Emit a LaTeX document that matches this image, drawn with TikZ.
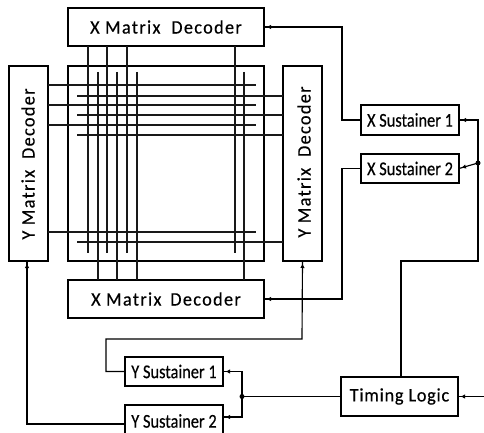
\documentclass[tikz,border=0pt]{standalone}
\usepackage{fontspec}
\setmainfont{Carlito}
\newfontfamily\labfont[LetterSpace=7,FakeStretch=0.96,FakeBold=0.4]{Carlito}
\newfontfamily\timfont[LetterSpace=4,FakeStretch=0.96,FakeBold=0.4]{Carlito}
\newfontfamily\susfont[FakeStretch=0.84,FakeBold=0.4]{Carlito}
\usetikzlibrary{arrows.meta}
\tikzset{
  boxnode/.style={draw=black,line width=1.5pt,fill=white,inner sep=0pt,outer sep=0pt,minimum width=#1},
  boxnode/.default=98pt,
  wire/.style={draw=black,line width=1.15pt},
  grid/.style={draw=black!90,line width=1.15pt},
  arrowwire/.style={wire,-{Latex[length=4.5pt,width=4.5pt] Rectangle[length=2.5pt,width=1.15pt]}},
  lab/.style={font=\labfont\fontsize{19}{19}\selectfont},
  tlab/.style={font=\timfont\fontsize{19}{19}\selectfont},
  slab/.style={font=\susfont\fontsize{19.5}{19.5}\selectfont}
}
\begin{document}
\begin{tikzpicture}[x=1pt,y=-1pt]
\useasboundingbox (0,0) rectangle (484,433);
\fill[white] (0,0) rectangle (484,433);
% panel
\node[boxnode=196pt,minimum height=195pt,anchor=north west] (panel) at (68,66) {};
% decoders
\node[boxnode=196pt,minimum height=38pt,anchor=north west,lab] (xtop) at (68,8) {X Matrix\ \ Decoder};
\node[boxnode=196pt,minimum height=38pt,anchor=north west,lab] (xbot) at (68,280) {X Matrix\ \ \hspace{-2pt}Decoder};
\node[boxnode=39pt,minimum height=195pt,anchor=north west] (yleft) at (9,66) {};
\node[lab,rotate=90] (ylefttext) at (28,164) {Y Matrix\ \ Decoder};
\node[boxnode=39pt,minimum height=195pt,anchor=north west] (yright) at (283,66) {};
\node[lab,rotate=90] (yrighttext) at (304,162) {Y Matrix\ \ Decoder};
% sustainers
\node[boxnode,minimum height=30pt,anchor=north west,slab] (xs1) at (361,105) {X Sustainer 1};
\node[boxnode,minimum height=29pt,anchor=north west,slab] (xs2) at (361,154) {X Sustainer 2};
\node[boxnode,minimum height=29pt,anchor=north west,slab] (ys1) at (125,357) {Y Sustainer 1};
\node[boxnode,minimum height=34pt,anchor=north west] (ys2) at (125,405) {};
\node[slab,anchor=center] (ys2text) at (174,421) {Y Sustainer 2};
\node[boxnode=117pt,minimum height=39pt,anchor=north west,tlab] (tim) at (341,377) {Timing Logic};
% grid: horizontals from the left decoder
\foreach \y in {85,105,125,232} \draw[grid] (48,\y) -- (256,\y);
% horizontals to the right decoder
\foreach \y in {96,115,135,242} \draw[grid] (77,\y) -- (283,\y);
% verticals from the top decoder
\foreach \x in {88,107,127,235} \draw[grid] (\x,46) -- (\x,253);
% verticals to the bottom decoder
\foreach \x in {98,117,137,244} \draw[grid] (\x,72) -- (\x,280);
% connectors
\coordinate (jx) at (478,163);
\coordinate (jy) at (242,396.5);
\coordinate (ext) at (484,396.5);
\draw[arrowwire] (xs1.west) -- ++(-19,0) |- (xtop.east);
\draw[arrowwire] (xs2.west) -- ++(-19,0) |- (xbot.east);
\draw[arrowwire] (ys1.west) -- ++(-19,0) |- (302,339) -- (yright.south);
\draw[arrowwire] (125,424) -| (27,261);
\draw[arrowwire] (jx) |- (xs1.east);
\draw[arrowwire] (jx) -- (xs2.east);
\draw[wire] (jx) |- (401,261) -- (401,377);
\draw[arrowwire] (jy) |- (ys1.east);
\draw[arrowwire] (jy) |- (223,417);
\draw[wire] (tim.west) -- (jy);
\draw[arrowwire] (ext) -- (tim.east);
\fill (jx) circle (2.5pt);
\fill (jy) circle (2.5pt);
\end{tikzpicture}
\end{document}
